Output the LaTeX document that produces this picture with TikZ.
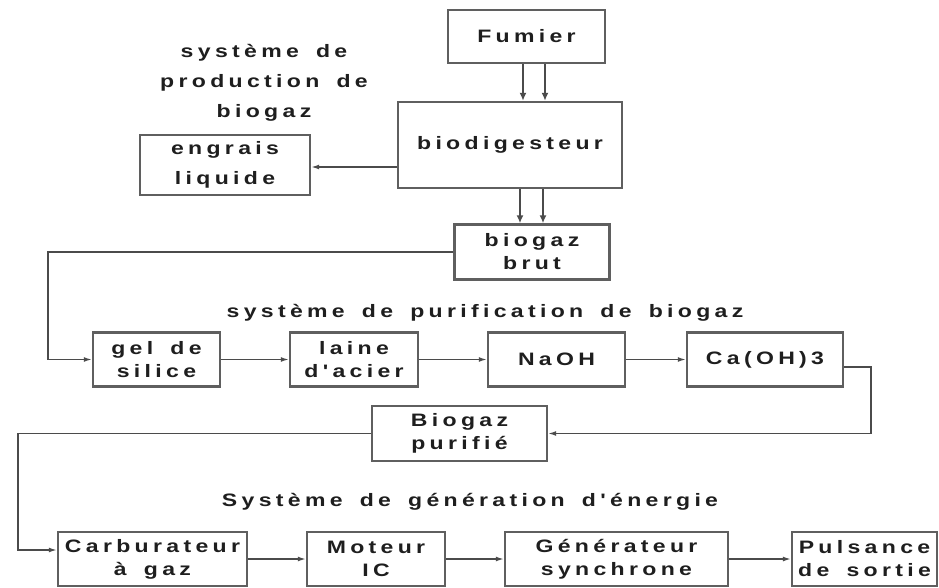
\documentclass[tikz,border=0pt]{standalone}
\usepackage{fontspec}
\usepackage{tikz}
\usetikzlibrary{arrows.meta, positioning}
\newfontfamily\diagfont{Liberation Sans Bold}[FakeStretch=1.28, LetterSpace=24, WordSpace=1.6]
\definecolor{boxline}{RGB}{95,95,95}
\definecolor{ink}{RGB}{30,30,30}

\begin{document}
\begin{tikzpicture}[x=1pt, y=-1pt,
  every node/.style={font=\diagfont\fontsize{18}{23}\selectfont, text=ink},
  stage/.style={draw=boxline, line width=2.4pt, align=center, inner sep=0pt},
  grouplabel/.style={align=center, inner sep=0pt},
  flow/.style={draw=ink!80, line width=1.4pt, -{Latex[length=8pt, width=5pt]}},
  feed/.style={draw=ink!80, line width=2.8pt, -{Latex[length=8pt, width=7pt]}}]
  \useasboundingbox (0,0) rectangle (939,587);

  % production de biogaz
  \node[stage, minimum width=157pt, minimum height=53pt] (fumier) at (526.5,36.5) {Fumier};
  \node[stage, minimum width=224pt, minimum height=86pt] (biodig) at (510,145) {biodigesteur};
  \node[stage, minimum width=170pt, minimum height=60pt, font=\diagfont\fontsize{18}{30}\selectfont] (engrais) at (225,165) {engrais\\liquide};
  \node[grouplabel, font=\diagfont\fontsize{18}{30}\selectfont] (lblprod) at (264,83) {système de\\production de\\biogaz};
  \node[stage, minimum width=155pt, minimum height=55pt] (brut) at (532,252) {biogaz\\brut};

  % purification
  \node[grouplabel] (lblpuri) at (485,313) {système de purification de biogaz};
  \node[stage, minimum width=127pt, minimum height=54pt] (gel) at (156.5,359.5) {gel de\\silice};
  \node[stage, minimum width=128pt, minimum height=54pt] (laine) at (354,359.5) {laine\\d'acier};
  \node[stage, minimum width=137pt, minimum height=54pt] (naoh) at (556.5,359.5) {NaOH};
  \node[stage, minimum width=156pt, minimum height=54pt] (caoh) at (765,359.5) {Ca(OH)3};
  \node[stage, minimum width=175pt, minimum height=55pt] (puri) at (459.5,433.5) {Biogaz\\purifié};

  % generation d'energie
  \node[grouplabel] (lblgen) at (470,502) {Système de génération d'énergie};
  \node[stage, minimum width=189pt, minimum height=54pt] (carb) at (152.5,559) {Carburateur\\à gaz};
  \node[stage, minimum width=138pt, minimum height=54pt] (moteur) at (376,559) {Moteur\\IC};
  \node[stage, minimum width=223pt, minimum height=54pt] (gene) at (616.5,559) {Générateur\\synchrone};
  \node[stage, minimum width=145pt, minimum height=54pt] (sortie) at (864.5,559) {Pulsance\\de sortie};

  \coordinate (turnA) at (48,252);
  \coordinate (turnB) at (871,367);
  \coordinate (turnC) at (18,433.5);

  \draw[feed] ([xshift=-3.5pt]fumier.south) -- ([xshift=-3.5pt]fumier.south |- biodig.north);
  \draw[feed] ([xshift=18.5pt]fumier.south) -- ([xshift=18.5pt]fumier.south |- biodig.north);
  \draw[flow] ([yshift=-22pt]biodig.west) -- ([yshift=-22pt]biodig.west -| engrais.east);
  \draw[feed] ([xshift=10pt]biodig.south) -- ([xshift=10pt]biodig.south |- brut.north);
  \draw[feed] ([xshift=33pt]biodig.south) -- ([xshift=33pt]biodig.south |- brut.north);

  \draw[flow] (brut.west) -- (turnA) |- (gel.west);
  \draw[flow] (gel) -- (laine);
  \draw[flow] (laine) -- (naoh);
  \draw[flow] (naoh) -- (caoh);
  \draw[flow] ([yshift=-7.5pt]caoh.east) -- (turnB) |- (puri.east);

  \draw[flow] (puri.west) -- (turnC) |- ([yshift=9pt]carb.west);
  \draw[flow] (carb) -- (moteur);
  \draw[flow] (moteur) -- (gene);
  \draw[flow] (gene) -- (sortie);
\end{tikzpicture}
\end{document}
